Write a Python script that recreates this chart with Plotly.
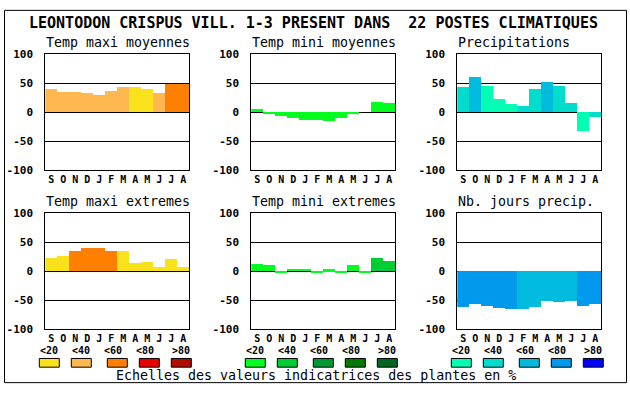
import plotly.graph_objects as go

W, H = 630, 394

# ---------------- data ----------------
months = ["S", "O", "N", "D", "J", "F", "M", "A", "M", "J", "J", "A"]
y_ticks = [-100, -50, 0, 50, 100]
legend_labels = ["<20", "<40", "<60", "<80", ">80"]

temp_palette = ["#F9E11C", "#FFB850", "#FF8000", "#E80000", "#B00C00"]
green_palette = ["#00FF1E", "#00CC33", "#009933", "#007A00", "#006622"]
blue_palette = ["#00FFB2", "#00DDCC", "#00BBDD", "#0099EE", "#0000FF"]

tmax_moy = [40, 35, 35, 32, 30, 37, 43, 43, 40, 32, 49, 49]
tmax_moy_cls = [1, 1, 1, 1, 1, 1, 1, 0, 0, 1, 2, 2]

tmin_moy = [5, -3, -6, -11, -13, -13, -15, -11, -4, 0, 17, 15]
tmin_moy_cls = [0, 0, 0, 0, 0, 0, 0, 0, 0, 0, 0, 0]

precip = [43, 60, 45, 23, 13, 10, 40, 52, 45, 15, -33, -8]
precip_cls = [1, 2, 0, 0, 0, 1, 1, 2, 1, 1, 0, 1]

tmax_ext = [22, 26, 34, 40, 40, 34, 34, 14, 15, 7, 20, 7]
tmax_ext_cls = [0, 0, 2, 2, 2, 2, 0, 0, 0, 0, 0, 0]

tmin_ext = [12, 10, -2, 4, 4, -4, 3, -4, 10, -2, 22, 17]
tmin_ext_cls = [0, 0, 0, 0, 0, 0, 0, 0, 0, 0, 1, 1]

nb_jours = [-62, -57, -60, -64, -66, -66, -62, -52, -54, -52, -60, -57]
nb_jours_cls = [3, 3, 3, 3, 3, 2, 2, 2, 2, 2, 3, 3]

title_text = "LEONTODON CRISPUS VILL. 1-3 PRESENT DANS  22 POSTES CLIMATIQUES"
panel_titles = ["Temp maxi moyennes", "Temp mini moyennes", "Precipitations",
                "Temp maxi extremes", "Temp mini extremes", "Nb. jours precip."]
footer_text = "Echelles des valeurs indicatrices des plantes en %"

panels = [
    (tmax_moy, tmax_moy_cls, temp_palette),
    (tmin_moy, tmin_moy_cls, green_palette),
    (precip, precip_cls, blue_palette),
    (tmax_ext, tmax_ext_cls, temp_palette),
    (tmin_ext, tmin_ext_cls, green_palette),
    (nb_jours, nb_jours_cls, blue_palette),
]

# ---------------- layout geometry (pixels) ----------------
FONT = "DejaVu Sans Mono"
col_left = [45.3, 251.3, 457.3]
plot_w = 144
row_top = [50, 214.3]
plot_h = 120


def px(x):
    return x / W


def py(y):
    return 1 - y / H


fig = go.Figure()
layout = dict(
    width=W, height=H, margin=dict(l=0, r=0, t=0, b=0),
    paper_bgcolor="white", plot_bgcolor="white",
    showlegend=False, bargap=0,
    annotations=[], shapes=[],
)

for i, (vals, cls, pal) in enumerate(panels):
    r, c = divmod(i, 3)
    n = "" if i == 0 else str(i + 1)
    fig.add_trace(go.Bar(
        x=list(range(len(months))), y=vals,
        marker=dict(color=[pal[k] for k in cls], line=dict(width=0)),
        width=1, xaxis="x" + n, yaxis="y" + n, hoverinfo="skip",
    ))
    x0, x1 = col_left[c], col_left[c] + plot_w
    y0, y1 = row_top[r], row_top[r] + plot_h
    layout["xaxis" + n] = dict(
        domain=[px(x0), px(x1)], anchor="y" + n, range=[-0.5, 11.5],
        tickvals=list(range(12)), ticktext=months, showgrid=False,
        zeroline=False, showline=True, mirror=True, linecolor="black",
        linewidth=1, ticks="", ticklabelstandoff=0, fixedrange=True,
        tickfont=dict(family=FONT, size=10, color="black", weight="bold"),
    )
    layout["yaxis" + n] = dict(
        domain=[py(y1), py(y0)], anchor="x" + n, range=[-100, 100],
        tickvals=y_ticks, ticktext=[str(v) for v in y_ticks],
        showgrid=True, gridcolor="black", gridwidth=1,
        zeroline=True, zerolinecolor="black", zerolinewidth=1,
        showline=True, mirror=True, linecolor="black", linewidth=1,
        ticks="", ticklabelstandoff=9, layer="above traces", fixedrange=True,
        tickfont=dict(family=FONT, size=11, color="black", weight="bold"),
    )
    layout["annotations"].append(dict(
        text=panel_titles[i], x=px(x0 - 1), y=py(y0 - 12), xref="paper",
        yref="paper", xanchor="left", yanchor="middle", showarrow=False,
        font=dict(family=FONT, size=13.3, color="black"),
    ))

# title
layout["annotations"].append(dict(
    text=title_text, x=px(313), y=py(17.5), xref="paper", yref="paper",
    xanchor="center", yanchor="middle", showarrow=False,
    font=dict(family=FONT, size=15, color="black", weight="bold"),
))

# legends
group_start = [39.3, 245.3, 451.3]
box_off = [0, 32, 68, 100, 132]
lab_off = [0, 32, 64, 96, 132]
for g, pal in enumerate([temp_palette, green_palette, blue_palette]):
    for k in range(5):
        bx = group_start[g] + box_off[k]
        layout["shapes"].append(dict(
            type="rect", xref="paper", yref="paper",
            x0=px(bx), x1=px(bx + 20), y0=py(373.5), y1=py(364.5),
            fillcolor=pal[k], line=dict(color="black", width=1),
        ))
        lx = group_start[g] + lab_off[k] + 10
        layout["annotations"].append(dict(
            text=legend_labels[k], x=px(lx), y=py(356.5), xref="paper",
            yref="paper", xanchor="center", yanchor="middle",
            showarrow=False, borderpad=0,
            font=dict(family=FONT, size=10, color="black", weight="bold"),
        ))

layout["annotations"].append(dict(
    text=footer_text, x=px(316), y=py(382), xref="paper", yref="paper",
    xanchor="center", yanchor="middle", showarrow=False,
    font=dict(family=FONT, size=13.3, color="black"),
))

# outer frame
layout["shapes"].append(dict(
    type="rect", xref="paper", yref="paper",
    x0=px(4.5), x1=px(626.5), y0=py(389.5), y1=py(4.5),
    line=dict(color="black", width=1), fillcolor="rgba(0,0,0,0)",
))

fig.update_layout(**layout)
fig.write_html(
    "out.html",
    config={"displayModeBar": False},
    post_script="document.body.style.margin='0px';"
                "document.body.style.overflow='hidden';",
)
